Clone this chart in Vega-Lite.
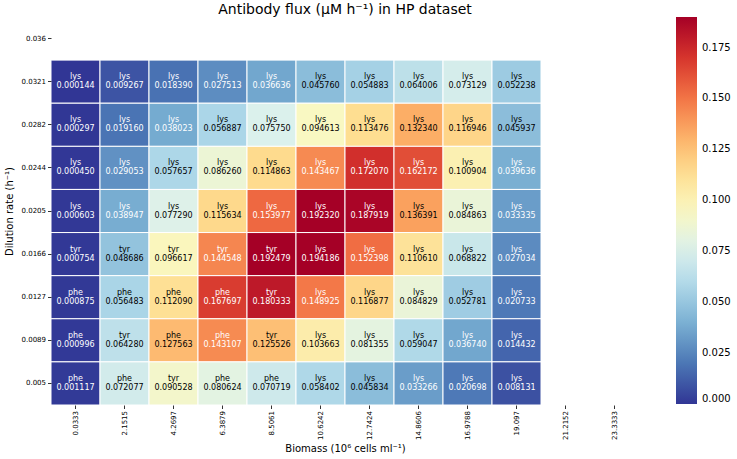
{
  "$schema": "https://vega.github.io/schema/vega-lite/v6.json",
  "autosize": {"type": "none"},
  "padding": {"left": 51, "top": 17, "right": 98, "bottom": 54},
  "width": 588,
  "height": 388,
  "title": {
    "text": "Antibody flux (μM h⁻¹) in HP dataset",
    "fontSize": 14,
    "fontWeight": "normal",
    "color": "black",
    "offset": 0
  },
  "config": {
    "font": "DejaVu Sans",
    "view": {"stroke": null},
    "axis": {
      "domain": false,
      "grid": false,
      "tickColor": "black",
      "tickSize": 3.5,
      "tickWidth": 0.8,
      "labelColor": "black",
      "labelFontSize": 7,
      "labelPadding": 2,
      "titleColor": "black",
      "titleFontSize": 10,
      "titleFontWeight": "normal"
    }
  },
  "data": {
    "values": [
      {"dilution": "0.0321", "biomass": "0.0333", "aa": "lys", "flux": 0.000144},
      {"dilution": "0.0321", "biomass": "2.1515", "aa": "lys", "flux": 0.009267},
      {"dilution": "0.0321", "biomass": "4.2697", "aa": "lys", "flux": 0.018390},
      {"dilution": "0.0321", "biomass": "6.3879", "aa": "lys", "flux": 0.027513},
      {"dilution": "0.0321", "biomass": "8.5061", "aa": "lys", "flux": 0.036636},
      {"dilution": "0.0321", "biomass": "10.6242", "aa": "lys", "flux": 0.045760},
      {"dilution": "0.0321", "biomass": "12.7424", "aa": "lys", "flux": 0.054883},
      {"dilution": "0.0321", "biomass": "14.8606", "aa": "lys", "flux": 0.064006},
      {"dilution": "0.0321", "biomass": "16.9788", "aa": "lys", "flux": 0.073129},
      {"dilution": "0.0321", "biomass": "19.097", "aa": "lys", "flux": 0.052238},

      {"dilution": "0.0282", "biomass": "0.0333", "aa": "lys", "flux": 0.000297},
      {"dilution": "0.0282", "biomass": "2.1515", "aa": "lys", "flux": 0.019160},
      {"dilution": "0.0282", "biomass": "4.2697", "aa": "lys", "flux": 0.038023},
      {"dilution": "0.0282", "biomass": "6.3879", "aa": "lys", "flux": 0.056887},
      {"dilution": "0.0282", "biomass": "8.5061", "aa": "lys", "flux": 0.075750},
      {"dilution": "0.0282", "biomass": "10.6242", "aa": "lys", "flux": 0.094613},
      {"dilution": "0.0282", "biomass": "12.7424", "aa": "lys", "flux": 0.113476},
      {"dilution": "0.0282", "biomass": "14.8606", "aa": "lys", "flux": 0.132340},
      {"dilution": "0.0282", "biomass": "16.9788", "aa": "lys", "flux": 0.116946},
      {"dilution": "0.0282", "biomass": "19.097", "aa": "lys", "flux": 0.045937},

      {"dilution": "0.0244", "biomass": "0.0333", "aa": "lys", "flux": 0.000450},
      {"dilution": "0.0244", "biomass": "2.1515", "aa": "lys", "flux": 0.029053},
      {"dilution": "0.0244", "biomass": "4.2697", "aa": "lys", "flux": 0.057657},
      {"dilution": "0.0244", "biomass": "6.3879", "aa": "lys", "flux": 0.086260},
      {"dilution": "0.0244", "biomass": "8.5061", "aa": "lys", "flux": 0.114863},
      {"dilution": "0.0244", "biomass": "10.6242", "aa": "lys", "flux": 0.143467},
      {"dilution": "0.0244", "biomass": "12.7424", "aa": "lys", "flux": 0.172070},
      {"dilution": "0.0244", "biomass": "14.8606", "aa": "lys", "flux": 0.162172},
      {"dilution": "0.0244", "biomass": "16.9788", "aa": "lys", "flux": 0.100904},
      {"dilution": "0.0244", "biomass": "19.097", "aa": "lys", "flux": 0.039636},

      {"dilution": "0.0205", "biomass": "0.0333", "aa": "lys", "flux": 0.000603},
      {"dilution": "0.0205", "biomass": "2.1515", "aa": "lys", "flux": 0.038947},
      {"dilution": "0.0205", "biomass": "4.2697", "aa": "lys", "flux": 0.077290},
      {"dilution": "0.0205", "biomass": "6.3879", "aa": "lys", "flux": 0.115634},
      {"dilution": "0.0205", "biomass": "8.5061", "aa": "lys", "flux": 0.153977},
      {"dilution": "0.0205", "biomass": "10.6242", "aa": "lys", "flux": 0.192320},
      {"dilution": "0.0205", "biomass": "12.7424", "aa": "lys", "flux": 0.187919},
      {"dilution": "0.0205", "biomass": "14.8606", "aa": "lys", "flux": 0.136391},
      {"dilution": "0.0205", "biomass": "16.9788", "aa": "lys", "flux": 0.084863},
      {"dilution": "0.0205", "biomass": "19.097", "aa": "lys", "flux": 0.033335},

      {"dilution": "0.0166", "biomass": "0.0333", "aa": "tyr", "flux": 0.000754},
      {"dilution": "0.0166", "biomass": "2.1515", "aa": "tyr", "flux": 0.048686},
      {"dilution": "0.0166", "biomass": "4.2697", "aa": "tyr", "flux": 0.096617},
      {"dilution": "0.0166", "biomass": "6.3879", "aa": "tyr", "flux": 0.144548},
      {"dilution": "0.0166", "biomass": "8.5061", "aa": "tyr", "flux": 0.192479},
      {"dilution": "0.0166", "biomass": "10.6242", "aa": "lys", "flux": 0.194186},
      {"dilution": "0.0166", "biomass": "12.7424", "aa": "lys", "flux": 0.152398},
      {"dilution": "0.0166", "biomass": "14.8606", "aa": "lys", "flux": 0.110610},
      {"dilution": "0.0166", "biomass": "16.9788", "aa": "lys", "flux": 0.068822},
      {"dilution": "0.0166", "biomass": "19.097", "aa": "lys", "flux": 0.027034},

      {"dilution": "0.0127", "biomass": "0.0333", "aa": "phe", "flux": 0.000875},
      {"dilution": "0.0127", "biomass": "2.1515", "aa": "phe", "flux": 0.056483},
      {"dilution": "0.0127", "biomass": "4.2697", "aa": "phe", "flux": 0.112090},
      {"dilution": "0.0127", "biomass": "6.3879", "aa": "phe", "flux": 0.167697},
      {"dilution": "0.0127", "biomass": "8.5061", "aa": "tyr", "flux": 0.180333},
      {"dilution": "0.0127", "biomass": "10.6242", "aa": "lys", "flux": 0.148925},
      {"dilution": "0.0127", "biomass": "12.7424", "aa": "lys", "flux": 0.116877},
      {"dilution": "0.0127", "biomass": "14.8606", "aa": "lys", "flux": 0.084829},
      {"dilution": "0.0127", "biomass": "16.9788", "aa": "lys", "flux": 0.052781},
      {"dilution": "0.0127", "biomass": "19.097", "aa": "lys", "flux": 0.020733},

      {"dilution": "0.0089", "biomass": "0.0333", "aa": "phe", "flux": 0.000996},
      {"dilution": "0.0089", "biomass": "2.1515", "aa": "tyr", "flux": 0.064280},
      {"dilution": "0.0089", "biomass": "4.2697", "aa": "phe", "flux": 0.127563},
      {"dilution": "0.0089", "biomass": "6.3879", "aa": "phe", "flux": 0.143107},
      {"dilution": "0.0089", "biomass": "8.5061", "aa": "tyr", "flux": 0.125526},
      {"dilution": "0.0089", "biomass": "10.6242", "aa": "lys", "flux": 0.103663},
      {"dilution": "0.0089", "biomass": "12.7424", "aa": "lys", "flux": 0.081355},
      {"dilution": "0.0089", "biomass": "14.8606", "aa": "lys", "flux": 0.059047},
      {"dilution": "0.0089", "biomass": "16.9788", "aa": "lys", "flux": 0.036740},
      {"dilution": "0.0089", "biomass": "19.097", "aa": "lys", "flux": 0.014432},

      {"dilution": "0.005", "biomass": "0.0333", "aa": "phe", "flux": 0.001117},
      {"dilution": "0.005", "biomass": "2.1515", "aa": "phe", "flux": 0.072077},
      {"dilution": "0.005", "biomass": "4.2697", "aa": "tyr", "flux": 0.090528},
      {"dilution": "0.005", "biomass": "6.3879", "aa": "phe", "flux": 0.080624},
      {"dilution": "0.005", "biomass": "8.5061", "aa": "phe", "flux": 0.070719},
      {"dilution": "0.005", "biomass": "10.6242", "aa": "lys", "flux": 0.058402},
      {"dilution": "0.005", "biomass": "12.7424", "aa": "lys", "flux": 0.045834},
      {"dilution": "0.005", "biomass": "14.8606", "aa": "lys", "flux": 0.033266},
      {"dilution": "0.005", "biomass": "16.9788", "aa": "lys", "flux": 0.020698},
      {"dilution": "0.005", "biomass": "19.097", "aa": "lys", "flux": 0.008131}
    ]
  },
  "encoding": {
    "x": {
      "field": "biomass",
      "type": "ordinal",
      "sort": null,
      "title": "Biomass (10⁶ cells ml⁻¹)",
      "scale": {
        "domain": ["0.0333", "2.1515", "4.2697", "6.3879", "8.5061", "10.6242", "12.7424", "14.8606", "16.9788", "19.097", "21.2152", "23.3333"],
        "paddingInner": 0,
        "paddingOuter": 0
      },
      "axis": {"labelAngle": -90, "titlePadding": 4}
    },
    "y": {
      "field": "dilution",
      "type": "ordinal",
      "sort": null,
      "title": "Dilution rate (h⁻¹)",
      "scale": {
        "domain": ["0.036", "0.0321", "0.0282", "0.0244", "0.0205", "0.0166", "0.0127", "0.0089", "0.005"],
        "paddingInner": 0,
        "paddingOuter": 0
      },
      "axis": {"titlePadding": 7}
    }
  },
  "layer": [
    {
      "mark": {"type": "rect", "stroke": "white", "strokeWidth": 1},
      "encoding": {
        "color": {
          "field": "flux",
          "type": "quantitative",
          "title": null,
          "scale": {
            "scheme": "redyellowblue",
            "reverse": true,
            "domain": [0, 0.19],
            "clamp": true
          },
          "legend": {
            "orient": "none",
            "legendX": 625,
            "legendY": 0,
            "padding": 0,
            "direction": "vertical",
            "gradientLength": 387,
            "gradientThickness": 21,
            "gradientStrokeWidth": 0,
            "values": [0, 0.025, 0.05, 0.075, 0.1, 0.125, 0.15, 0.175],
            "format": ".3f",
            "labelFontSize": 10,
            "labelColor": "black",
            "labelOffset": 5,
            "labelOverlap": false
          }
        }
      }
    },
    {
      "mark": {"type": "text", "fontSize": 8, "dy": -4.5},
      "encoding": {
        "text": {"field": "aa"},
        "color": {
          "condition": {"test": "datum.flux < 0.042 || datum.flux > 0.14", "value": "white"},
          "value": "black"
        }
      }
    },
    {
      "mark": {"type": "text", "fontSize": 8, "dy": 4.5},
      "encoding": {
        "text": {"field": "flux", "type": "quantitative", "format": ".6f"},
        "color": {
          "condition": {"test": "datum.flux < 0.042 || datum.flux > 0.14", "value": "white"},
          "value": "black"
        }
      }
    }
  ]
}
